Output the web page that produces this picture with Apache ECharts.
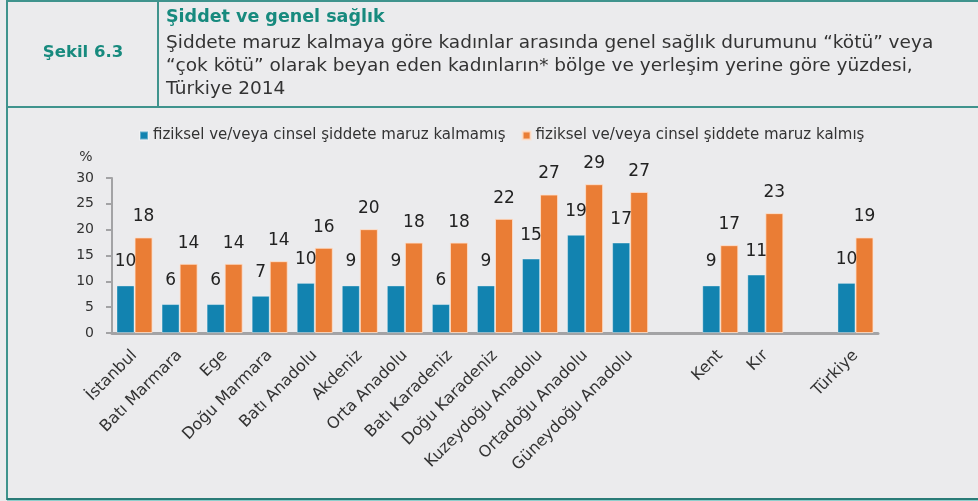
<!DOCTYPE html>
<html>
<head>
<meta charset="utf-8">
<script src="https://cdn.jsdelivr.net/npm/echarts@6/dist/echarts.min.js"></script>
<style>
  html, body { margin: 0; padding: 0; background: #ebebed; }
  #main { width: 978px; height: 501px; }
</style>
</head>
<body>
<div id="main"></div>
<script>
// bölgeler + yerleşim yeri ('' = boşluk)
var categories = ['İstanbul', 'Batı Marmara', 'Ege', 'Doğu Marmara', 'Batı Anadolu', 'Akdeniz',
  'Orta Anadolu', 'Batı Karadeniz', 'Doğu Karadeniz', 'Kuzeydoğu Anadolu', 'Ortadoğu Anadolu',
  'Güneydoğu Anadolu', '', 'Kent', 'Kır', '', 'Türkiye'];

// çubuk yükseklikleri
var notExposed = [9.2, 5.6, 5.6, 7.2, 9.7, 9.2, 9.2, 5.6, 9.2, 14.4, 19.0, 17.5, null, 9.2, 11.3, null, 9.7];
var exposed = [18.5, 13.4, 13.4, 13.9, 16.5, 20.1, 17.5, 17.5, 22.1, 26.8, 28.8, 27.3, null, 17.0, 23.2, null, 18.5];

// çubukların üstünde yazan değerler
var notExposedLabels = ['10', '6', '6', '7', '10', '9', '9', '6', '9', '15', '19', '17', '', '9', '11', '', '10'];
var exposedLabels = ['18', '14', '14', '14', '16', '20', '18', '18', '22', '27', '29', '27', '', '17', '23', '', '19'];

var seriesNames = ['fiziksel ve/veya cinsel şiddete maruz kalmamış', 'fiziksel ve/veya cinsel şiddete maruz kalmış'];

var yTicks = [0, 5, 10, 15, 20, 25, 30];

var FONT = 'DejaVu Sans';
var TEAL = '#178a7e';
var LINE = '#3f938d';

var chart = echarts.init(document.getElementById('main'));

var option = {
  backgroundColor: '#ebebed',
  textStyle: { fontFamily: FONT },
  graphic: [
    // çerçeve
    { type: 'rect', shape: { x: 7, y: 1, width: 990, height: 498 }, style: { fill: 'none', stroke: LINE, lineWidth: 2 } },
    { type: 'line', shape: { x1: 7, y1: 107, x2: 978, y2: 107 }, style: { stroke: LINE, lineWidth: 2 } },
    { type: 'line', shape: { x1: 158, y1: 1, x2: 158, y2: 107 }, style: { stroke: LINE, lineWidth: 2 } },
    { type: 'line', shape: { x1: 7, y1: 499, x2: 978, y2: 499 }, style: { stroke: '#2a7b77', lineWidth: 2 } },
    { type: 'line', shape: { x1: 7, y1: 501, x2: 978, y2: 501 }, style: { stroke: '#8fcfcc', lineWidth: 2 } },
    // başlık
    { type: 'text', x: 83, y: 53, style: { text: 'Şekil 6.3', font: 'bold 16.5px "DejaVu Sans"', fill: TEAL, align: 'center', verticalAlign: 'middle' } },
    { type: 'text', x: 166, y: 17, style: { text: 'Şiddet ve genel sağlık', font: 'bold 17.5px "DejaVu Sans"', fill: TEAL, verticalAlign: 'middle' } },
    { type: 'text', x: 166, y: 43, style: { text: 'Şiddete maruz kalmaya göre kadınlar arasında genel sağlık durumunu “kötü” veya', font: '18.5px "DejaVu Sans"', fill: '#333', verticalAlign: 'middle' } },
    { type: 'text', x: 166, y: 66, style: { text: '“çok kötü” olarak beyan eden kadınların* bölge ve yerleşim yerine göre yüzdesi,', font: '18.5px "DejaVu Sans"', fill: '#333', verticalAlign: 'middle' } },
    { type: 'text', x: 166, y: 89, style: { text: 'Türkiye 2014', font: '18.5px "DejaVu Sans"', fill: '#333', verticalAlign: 'middle' } },
    // eksen adı
    { type: 'text', x: 86, y: 157, style: { text: '%', font: '14px "DejaVu Sans"', fill: '#333', align: 'center', verticalAlign: 'middle' } }
  ],
  legend: {
    top: 128,
    left: 139,
    padding: 0,
    itemWidth: 8,
    itemHeight: 8,
    itemGap: 16,
    icon: 'rect',
    textStyle: { fontSize: 15, color: '#333', fontFamily: FONT },
    data: seriesNames
  },
  grid: { left: 112, right: 100, top: 178, bottom: 168, containLabel: false },
  xAxis: {
    type: 'category',
    data: categories,
    axisLine: { lineStyle: { color: '#a3a3a5', width: 3 } },
    axisTick: { show: false },
    axisLabel: { rotate: 45, interval: 0, margin: 20, fontSize: 16, color: '#333', fontFamily: FONT }
  },
  yAxis: {
    type: 'value',
    min: yTicks[0],
    max: yTicks[yTicks.length - 1],
    interval: 5,
    splitLine: { show: false },
    axisLine: { show: true, lineStyle: { color: '#a3a3a5', width: 2 } },
    axisTick: { show: true, inside: false, length: 6, lineStyle: { color: '#a3a3a5', width: 2 } },
    axisLabel: { margin: 18, fontSize: 14, color: '#333', fontFamily: FONT }
  },
  series: [
    {
      name: seriesNames[0],
      type: 'bar',
      data: notExposed,
      barGap: '0%',
      barCategoryGap: '20%',
      itemStyle: { color: '#1283b0', borderColor: 'rgba(255,255,255,0.35)', borderWidth: 1 },
      label: {
        show: true, position: 'top', distance: 15, fontSize: 17, color: '#222', fontFamily: FONT,
        formatter: function (p) { return notExposedLabels[p.dataIndex]; }
      }
    },
    {
      name: seriesNames[1],
      type: 'bar',
      data: exposed,
      barGap: '0%',
      barCategoryGap: '20%',
      itemStyle: { color: '#ea7d35', borderColor: 'rgba(255,225,205,0.8)', borderWidth: 1 },
      label: {
        show: true, position: 'top', distance: 12, fontSize: 17, color: '#222', fontFamily: FONT,
        formatter: function (p) { return exposedLabels[p.dataIndex]; }
      }
    }
  ]
};

chart.clear();
chart.setOption(option);
</script>
</body>
</html>
